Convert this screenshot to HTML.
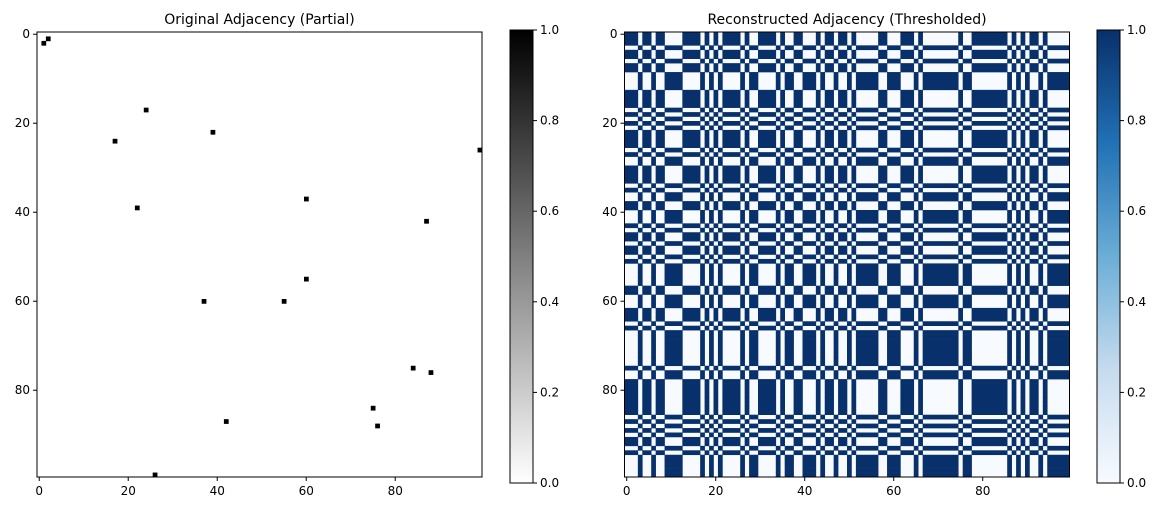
<!DOCTYPE html>
<html><head><meta charset="utf-8"><style>
body{margin:0;background:#fff;font-family:"Liberation Sans","DejaVu Sans",sans-serif;}
svg text{font-family:"DejaVu Sans","Liberation Sans",sans-serif;}
</style></head><body>
<svg id="c" width="1161" height="511" xmlns="http://www.w3.org/2000/svg"></svg>
<script>
const N = 100;
const origEdges = [[1,2],[2,1],[24,17],[17,24],[39,22],[22,39],[99,26],[26,99],[60,37],[37,60],[87,42],[42,87],[60,55],[55,60],[84,75],[75,84],[88,76],[76,88]];
// runs of group membership [start, end, value]
const groupRuns = [[0,2,1],[3,3,0],[4,5,1],[6,6,0],[7,8,1],[9,12,0],[13,16,1],[17,17,0],[18,18,1],[19,19,0],[20,20,1],[21,21,0],[22,25,1],[26,26,0],[27,27,1],[28,29,0],[30,33,1],[34,34,0],[35,35,1],[36,37,0],[38,39,1],[40,42,0],[43,43,1],[44,44,0],[45,46,1],[47,47,0],[48,49,1],[50,50,0],[51,51,1],[52,56,0],[57,58,1],[59,61,0],[62,64,1],[65,65,0],[66,66,1],[67,74,0],[75,75,1],[76,77,0],[78,85,1],[86,86,0],[87,87,1],[88,88,0],[89,89,1],[90,90,0],[91,92,1],[93,93,0],[94,94,1],[95,99,0]];
const axisTicks = [0,20,40,60,80];
const cbTicks = ["0.0","0.2","0.4","0.6","0.8","1.0"];
const titles = ["Original Adjacency (Partial)","Reconstructed Adjacency (Thresholded)"];

const svg = document.getElementById('c');
const NS = "http://www.w3.org/2000/svg";
function mk(tag, attrs, parent){const e=document.createElementNS(NS,tag);for(const k in attrs)e.setAttribute(k,attrs[k]);(parent||svg).appendChild(e);return e;}

const s=new Array(N).fill(0);
groupRuns.forEach(r=>{for(let i=r[0];i<=r[1];i++)s[i]=r[2];});

const panels=[{x:37,y:32,w:445,h:445,cbx:510,cb:"gray"},{x:624.5,y:32,w:445,h:445,cbx:1097,cb:"blues"}];
const defs=mk('defs',{});
const g1=mk('linearGradient',{id:'gray',x1:0,y1:1,x2:0,y2:0},defs);
mk('stop',{offset:0,'stop-color':'#ffffff'},g1);mk('stop',{offset:1,'stop-color':'#000000'},g1);
const g2=mk('linearGradient',{id:'blues',x1:0,y1:1,x2:0,y2:0},defs);
[['0','#f7fbff'],['0.25','#c6dbef'],['0.5','#6baed6'],['0.75','#2171b5'],['1','#08306b']].forEach(p=>mk('stop',{offset:p[0],'stop-color':p[1]},g2));

panels.forEach((p,pi)=>{
  const cw=p.w/N, ch=p.h/N;
  const xs=c=>p.x+c*cw, ys=r=>p.y+r*ch;
  const g=mk('g',{});
  
  
  mk('rect',{x:p.x,y:p.y,width:p.w,height:p.h,fill:pi===0?'#ffffff':'#f7fbff'},g);
  if(pi===0){
    origEdges.forEach(e=>{
      const r=mk('rect',{x:xs(e[0]),y:ys(e[1]),width:cw+0.3,height:ch+0.3,fill:'#000'},g);
      
      
    });
  } else {
    for(let i=0;i<N;i++){
      let j=0;
      while(j<N){
        if(s[i]===s[j]){let k=j;while(k<N&&s[i]===s[k])k++;
          const r=mk('rect',{x:xs(j),y:ys(i),width:(k-j)*cw+0.3,height:ch+0.3,fill:'#08306b'},g);
          
          
          j=k;} else j++;
      }
    }
  }
  mk('rect',{x:p.x,y:p.y,width:p.w,height:p.h,fill:'none',stroke:'#000','stroke-width':1});
  axisTicks.forEach(t=>{
    const cx=xs(t+0.5), cy=ys(t+0.5);
    mk('line',{x1:cx,y1:p.y+p.h,x2:cx,y2:p.y+p.h+4,stroke:'#000'});
    const tx=mk('text',{x:cx,y:p.y+p.h+18,'font-size':12,'text-anchor':'middle'});tx.textContent=t;
    
    mk('line',{x1:p.x-4,y1:cy,x2:p.x,y2:cy,stroke:'#000'});
    const ty=mk('text',{x:p.x-7,y:cy+4,'font-size':12,'text-anchor':'end'});ty.textContent=t;
    
  });
  const tt=mk('text',{x:p.x+p.w/2,y:24,'font-size':14,'text-anchor':'middle'});tt.textContent=titles[pi];
  
  const cbTop=30, cbBot=483;
  const cb=mk('rect',{x:p.cbx,y:cbTop,width:23,height:cbBot-cbTop,fill:'url(#'+p.cb+')',stroke:'#000','stroke-width':1});
  
  cbTicks.forEach((t,k)=>{
    const y=cbBot-(cbBot-cbTop)*parseFloat(t);
    mk('line',{x1:p.cbx+23,y1:y,x2:p.cbx+27,y2:y,stroke:'#000'});
    const l=mk('text',{x:p.cbx+30,y:y+4,'font-size':12});l.textContent=t;
    
  });
});
</script>
</body></html>
